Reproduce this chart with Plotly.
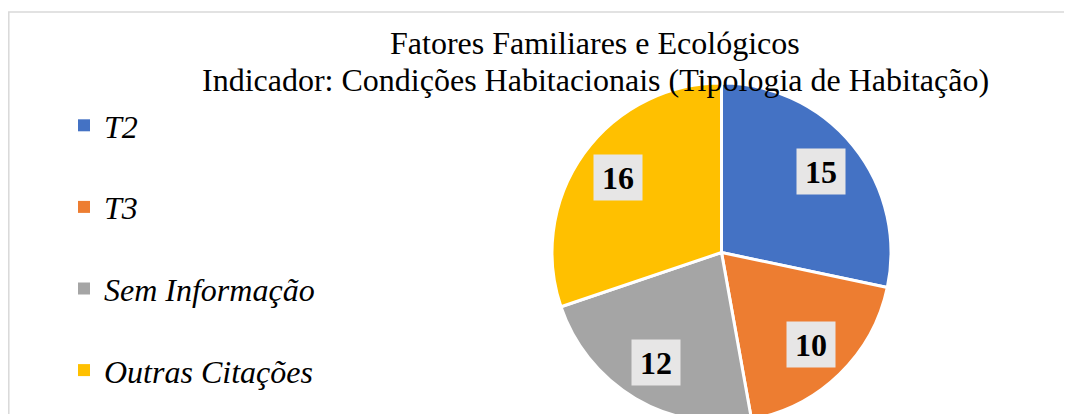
import math
import plotly.graph_objects as go

# ---- data ----
categories = ["T2", "T3", "Sem Informação", "Outras Citações"]
values = [15, 10, 12, 16]
colors = ["#4472C4", "#ED7D31", "#A5A5A5", "#FFC000"]
title_lines = ["Fatores Familiares e Ecológicos",
               "Indicador: Condições Habitacionais (Tipologia de Habitação)"]

FONT = "Liberation Serif, Times New Roman, serif"
OFF = 8                      # page body margin
W, H = 1064, 440
CX, CY, R = 721.5 - OFF, 252.5 - OFF, 169.5  # pie centre / radius in px


def px(x):
    return x / W


def py(y):
    return 1 - y / H


fig = go.Figure()
fig.add_trace(go.Pie(
    labels=categories, values=values, sort=False, direction="clockwise",
    rotation=0, marker=dict(colors=colors, line=dict(color="white", width=3)),
    textinfo="none", hoverinfo="label+value", showlegend=False,
    domain=dict(x=[px(CX - R), px(CX + R)], y=[py(CY + R), py(CY - R)]),
))

# legend entries (one group each so spacing matches)
for i, (c, col) in enumerate(zip(categories, colors)):
    fig.add_trace(go.Scatter(
        x=[None], y=[None], mode="markers", name=f"<i>{c}</i>", legendgroup=str(i),
        marker=dict(symbol="square", size=12, color=col),
    ))

# value labels with grey boxes
total = sum(values)
cum = 0
for v in values:
    mid = (cum + v / 2) / total * 2 * math.pi
    cum += v
    rr = 0.755 * R
    fig.add_annotation(
        x=px(CX + rr * math.sin(mid)), y=py(CY - rr * math.cos(mid)),
        xref="paper", yref="paper", xanchor="center", yanchor="middle",
        text=f"<b>{v}</b>", showarrow=False,
        font=dict(family=FONT, size=32, color="black"),
        bgcolor="#E7E6E6", width=38, height=35, borderpad=5,
    )

# title lines
for txt, yc in zip(title_lines, [43, 80]):
    fig.add_annotation(x=px(595 - OFF), y=py(yc - OFF), xref="paper", yref="paper",
                       text=txt, showarrow=False, xanchor="center", yanchor="middle",
                       font=dict(family=FONT, size=32, color="black"))

# chart border
fig.add_shape(type="rect", xref="paper", yref="paper",
              x0=px(0.8), x1=1.05, y0=-0.1, y1=py(12 - OFF),
              line=dict(color="#D9D9D9", width=1.5), fillcolor="rgba(0,0,0,0)")

fig.update_layout(
    width=W, height=H, margin=dict(l=0, r=0, t=0, b=0),
    paper_bgcolor="white", plot_bgcolor="white",
    xaxis=dict(visible=False), yaxis=dict(visible=False),
    legend=dict(x=px(64 - OFF), y=py(98 - OFF), xanchor="left", yanchor="top",
                font=dict(family=FONT, size=32, color="black"),
                tracegroupgap=37, bgcolor="rgba(0,0,0,0)"),
    showlegend=True,
)

fig.write_html("out.html")
